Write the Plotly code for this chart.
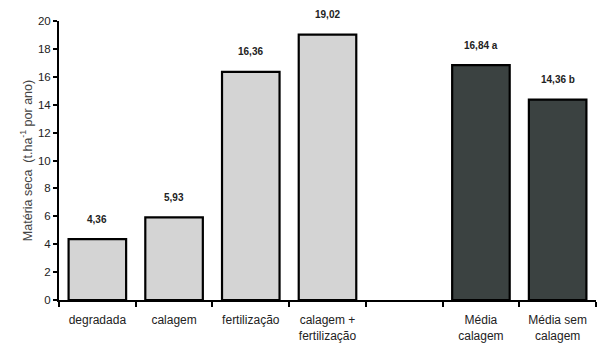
import plotly.graph_objects as go

categorias = ["degradada", "calagem", "fertilização", "calagem +<br>fertilização",
              " ", "Média<br>calagem", "Média sem<br>calagem"]
valores = [4.36, 5.93, 16.36, 19.02, None, 16.84, 14.36]
rotulos = ["4,36", "5,93", "16,36", "19,02", "", "16,84 a", "14,36 b"]
cores = ["#d4d4d4", "#d4d4d4", "#d4d4d4", "#d4d4d4", "#d4d4d4", "#3b4241", "#3b4241"]
ticks_y = [0, 2, 4, 6, 8, 10, 12, 14, 16, 18, 20]

fig = go.Figure()
fig.add_trace(go.Bar(
    x=categorias, y=valores,
    marker=dict(color=cores, line=dict(color="#000000", width=2.2)),
    width=0.75,
    hoverinfo="skip",
))

# value labels above each bar
for cat, val, txt in zip(categorias, valores, rotulos):
    if val is None:
        continue
    fig.add_annotation(x=cat, y=val, text=f"<b>{txt}</b>", showarrow=False,
                       yshift=20, font=dict(family="Liberation Sans, Arial", size=10, color="#222"))

fig.update_layout(
    width=600, height=350,
    margin=dict(l=59, r=4, t=21, b=50),
    paper_bgcolor="white", plot_bgcolor="white",
    showlegend=False,
    font=dict(family="Liberation Sans, Arial", size=11, color="#222"),
    xaxis=dict(
        type="category", tickson="boundaries", ticks="outside", ticklen=5,
        tickcolor="#000", tickwidth=1.5, ticklabelstandoff=8,
        showline=True, linecolor="#000", linewidth=2,
        showgrid=False, tickfont=dict(size=12, color="#222"),
    ),
    yaxis=dict(
        range=[0, 20], tickvals=ticks_y, ticks="outside", ticklen=4,
        tickcolor="#000", tickwidth=1.5,
        showline=True, linecolor="#000", linewidth=2,
        showgrid=False, zeroline=False, tickfont=dict(size=11.5, color="#222"),
        title=dict(text="Matéria seca  (t.ha<sup>-1</sup> por ano)",
                   font=dict(size=12.5, color="#444"), standoff=3),
    ),
)

fig.write_html("out.html")
